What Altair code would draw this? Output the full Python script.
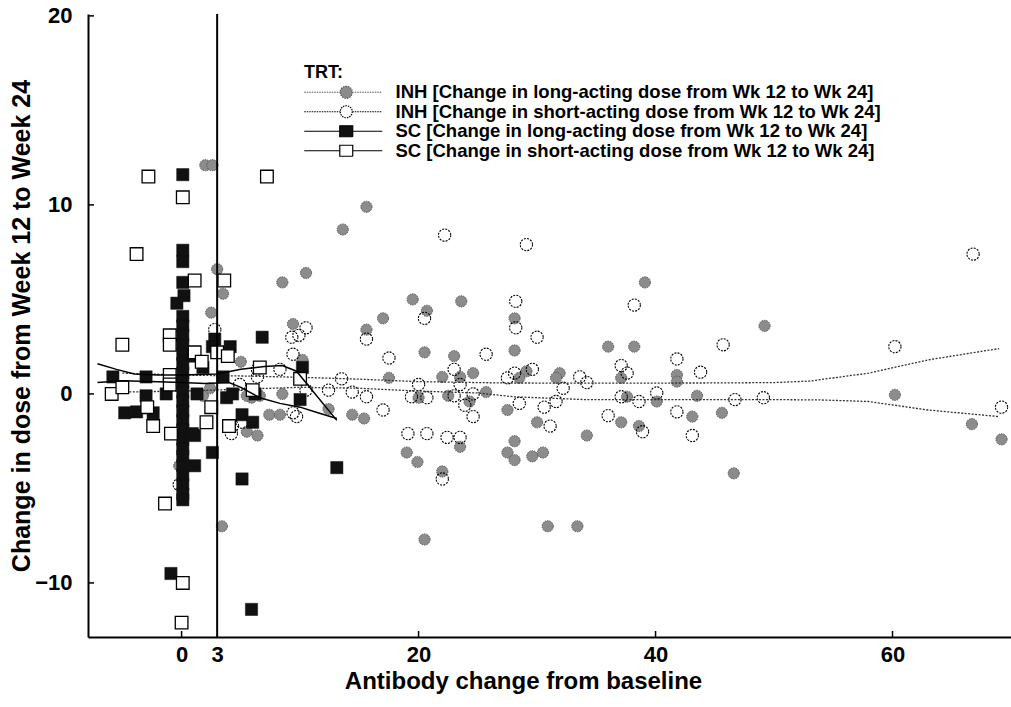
import altair as alt
import pandas as pd

# ---------------- data ----------------
# INH: change in long-acting dose (grey filled circles)
INH_LONG_X = [2.0, 2.6, 15.6, 13.6, 10.5, 8.5, 3.0, 3.5, 2.5, 19.5, 20.7, 23.6, 17.0, 15.6, 9.4,
              39.1, 28.1, 28.1, 36.0, 38.2, 49.2, 5.0, 10.2, 20.5, 23.0, 17.5, 22.0, 23.5, 24.6, 29.1,
              28.5, 31.9, 31.6, 37.1, 41.8, 41.8, 25.7, 8.5, 6.6, 5.9, 5.5, 1.8, 20.0, 22.5, 24.3,
              37.6, 40.1, 43.5, 60.2, 12.4, 14.4, 15.4, 7.4, 8.3, 27.5, 45.6, 43.1, 30.0, 37.1, 38.6,
              5.5, 6.4, 23.5, 28.1, 34.2, 27.5, 28.1, 29.6, 30.5, 19.0, 19.9, 22.0, 46.6, 20.5, 30.9,
              33.4, 3.4, -0.2, 66.7, 69.2, -5.0, -5.0, 2.4]
INH_LONG_Y = [12.1, 12.1, 9.9, 8.7, 6.4, 5.9, 6.6, 5.3, 4.3, 5.0, 4.4, 4.9, 4.0, 3.4, 3.7,
              5.9, 4.0, 2.3, 2.5, 2.5, 3.6, 1.7, 1.8, 2.2, 2.0, 0.85, 0.9, 0.9, 1.1, 1.2,
              0.85, 1.1, 0.85, 0.85, 1.0, 0.65, 0.1, 0.0, -0.1, -0.2, -0.1, -0.1, -0.2, -0.1, -0.4,
              -0.15, -0.4, -0.1, -0.05, -0.8, -1.1, -1.3, -1.1, -1.1, -0.85, -1.0, -1.2, -1.5, -1.5, -1.7,
              -2.0, -2.2, -2.8, -2.5, -2.2, -3.1, -3.5, -3.3, -3.1, -3.1, -3.6, -4.1, -4.2, -7.7, -7.0,
              -7.0, -7.0, -3.8, -1.6, -2.4, 2.6, 0.4, 0.3]

# INH: change in short-acting dose (open circles)
INH_SHORT_X = [22.2, 29.1, 66.8, 28.2, 38.2, 20.5, 10.5, 28.2, 2.8, 9.3, 9.9, 15.6, 30.0, 45.7, 60.2,
               9.4, 25.7, 17.5, 41.8, 37.1, 8.3, 6.4, 23.0, 29.6, 28.1, 37.6, 43.8, 27.5, 33.6, 34.2,
               13.5, 6.4, 4.9, 23.5, 20.0, 32.2, 12.4, 14.4, 10.5, 24.6, 40.1, 15.6, 19.4, 20.7, 23.0,
               37.1, 46.7, 49.1, 23.9, 28.5, 31.6, 30.6, 38.6, 69.2, 17.0, 9.4, 9.7, 24.6, 41.8, 36.0,
               31.1, 4.3, 5.1, 19.1, 20.7, 22.4, 23.5, 38.9, 43.1, 4.2, 22.0, -0.2]
INH_SHORT_Y = [8.4, 7.9, 7.4, 4.9, 4.7, 4.0, 3.5, 3.5, 3.4, 3.0, 3.1, 2.9, 3.0, 2.6, 2.5,
               2.1, 2.1, 1.9, 1.85, 1.5, 1.3, 1.3, 1.3, 1.3, 1.1, 1.1, 1.15, 0.85, 0.9, 0.6,
               0.8, 0.9, 0.5, 0.5, 0.5, 0.3, 0.2, 0.1, 0.2, 0.0, 0.05, -0.15, -0.15, -0.2, -0.1,
               -0.15, -0.3, -0.2, -0.6, -0.5, -0.4, -0.7, -0.4, -0.7, -0.85, -1.0, -1.2, -1.2, -0.95, -1.15,
               -1.7, -1.7, -1.5, -2.1, -2.1, -2.3, -2.3, -2.0, -2.2, -2.1, -4.5, -4.8]

# SC: change in long-acting dose (black squares)
SC_LONG_X = [0.1, 0.1, 0.1, 0.1, 0.2, -0.4, 0.1, 0.1, 0.1, 0.1, 0.1, 0.1, 0.1, 0.1, 0.1,
             0.1, 0.1, 0.1, 0.1, 0.1, 0.1, 0.1, 0.1, 0.1, 0.1, 0.1, 0.1, -0.9,
             0.9, 1.8, 1.3, -1.3, 0.9, 1.1, 1.1,
             2.8, 2.6, 4.1, 6.8, 10.2, 3.5, 3.8, 4.3, 6.2, 10.0, 5.1, 6.0, 2.6, 5.1, 5.9, 13.1,
             -5.8, -3.0, -3.0, -4.8, -3.8, -2.4]
SC_LONG_Y = [11.6, 7.6, 7.0, 5.9, 5.2, 4.8, 4.1, 3.6, 3.1, 2.6, 2.1, 1.6, 1.1, 0.6, 0.1,
             -0.4, -0.9, -1.4, -1.9, -2.4, -2.9, -3.3, -3.8, -4.3, -4.8, -5.3, -5.6, -9.5,
             2.0, 1.4, 0.0, 0.0, -2.1, -2.2, -3.8,
             2.9, 2.5, 2.5, 3.0, 1.4, 0.9, -0.2, 0.0, 0.0, -0.3, -1.1, -1.5, -3.1, -4.5, -11.4, -3.9,
             0.9, 0.9, -0.1, -1.0, -0.95, -1.0]

# SC: change in short-acting dose (open squares)
SC_SHORT_X = [-2.8, 0.1, 7.2, -3.8, 1.1, 3.6, -5.0, -1.0, -1.0, 1.1, 1.7, 3.0, 3.9, 6.6, 10.0,
              6.0, -1.0, -1.0, -5.9, -5.0, -2.9, -2.4, -0.9, 2.1, 2.5, 4.0, -1.4, 0.1, 0.0]
SC_SHORT_Y = [11.5, 10.4, 11.5, 7.4, 6.0, 6.0, 2.6, 3.1, 2.6, 2.2, 1.7, 2.2, 2.0, 1.4, 0.8,
              0.2, 1.0, 0.5, 0.0, 0.35, -0.7, -1.7, -2.1, -1.5, -0.7, -1.7, -5.8, -10.0, -12.1]

# smoothed trend curves
INH_SHORT_FIT_X = [-5, 0, 5, 10, 15, 20, 27, 35, 45, 50, 53, 58, 63, 69]
INH_SHORT_FIT_Y = [1.1, 1.0, 0.95, 0.88, 0.78, 0.65, 0.58, 0.57, 0.58, 0.6, 0.68, 1.1, 1.8, 2.4]
INH_LONG_FIT_X = [-5, 0, 5, 10, 15, 20, 25, 28, 34, 45, 50, 54, 58, 63, 69]
INH_LONG_FIT_Y = [0.1, 0.15, 0.25, 0.35, 0.3, 0.15, 0.05, -0.15, -0.3, -0.3, -0.3, -0.32, -0.4, -0.85, -1.2]
SC_A_FIT_X = [-7.1, -5.5, -4, -2, 0, 3, 5, 7, 8.5, 9.7, 13.1]
SC_A_FIT_Y = [1.6, 1.3, 1.05, 1.0, 1.0, 1.05, 1.3, 1.45, 1.5, 1.2, -1.4]
SC_B_FIT_X = [-7.1, -5, -2, 0, 2, 4, 5, 6.6, 8.3, 10, 11.5, 13.1]
SC_B_FIT_Y = [0.6, 0.7, 0.65, 0.6, 0.55, 0.6, 0.35, -0.2, -0.5, -0.7, -1.0, -1.3]

SERIES = [
    "INH [Change in long-acting dose from Wk 12 to Wk 24]",
    "INH [Change in short-acting dose from Wk 12 to Wk 24]",
    "SC [Change in long-acting dose from Wk 12 to Wk 24]",
    "SC [Change in short-acting dose from Wk 12 to Wk 24]",
]

X_DOMAIN = [-7.9, 70.0]
Y_DOMAIN = [-12.86, 20.1]
X_TICKS = [0, 3, 20, 40, 60]
X_TICK_MARKS = [0, 20, 40, 60]
Y_TICKS = [-10, 0, 10, 20]
CUTOFF = 3

# ---------------- styling ----------------
FONT = "Liberation Sans"
W, H = 923, 623

xs = alt.Scale(domain=X_DOMAIN, nice=False, zero=False)
ys = alt.Scale(domain=Y_DOMAIN, nice=False, zero=False)

x_axis = alt.Axis(values=X_TICKS, title="Antibody change from baseline", grid=False, ticks=False,
                  domainColor="black", domainWidth=2, labelFont=FONT, labelFontSize=22,
                  labelFontWeight="bold", labelColor="black", labelPadding=7, labelOverlap=False,
                  labelFlush=False, titleFont=FONT, titleFontSize=24, titleFontWeight="bold",
                  titleColor="black", titlePadding=4, titleX=435)
y_axis = alt.Axis(values=Y_TICKS, title="Change in dose from Week 12 to Week 24", grid=False,
                  ticks=False, domainColor="black", domainWidth=2, labelFont=FONT, labelFontSize=22,
                  labelFontWeight="bold", labelColor="black", labelPadding=16, labelOverlap=False,
                  labelFlush=False, titleFont=FONT, titleFontSize=25, titleFontWeight="bold",
                  titleColor="black", titlePadding=0)

X = alt.X("x:Q", scale=xs, axis=x_axis)
Y = alt.Y("y:Q", scale=ys, axis=y_axis)


def frame(xv, yv):
    return pd.DataFrame({"x": xv, "y": yv})


inh_long = alt.Chart(frame(INH_LONG_X, INH_LONG_Y)).mark_point(
    shape="circle", filled=True, fill="#8c8c8c", stroke="#555555", strokeWidth=1,
    strokeDash=[1.5, 1], size=125, opacity=1).encode(x=X, y=Y)

inh_short = alt.Chart(frame(INH_SHORT_X, INH_SHORT_Y)).mark_point(
    shape="circle", filled=False, stroke="black", strokeWidth=1.1, strokeDash=[2, 1.2],
    size=150, opacity=1).encode(x=X, y=Y)

inh_fit_short = alt.Chart(frame(INH_SHORT_FIT_X, INH_SHORT_FIT_Y)).mark_line(
    color="#333333", strokeWidth=1.3, strokeDash=[2, 1.5]).encode(x=X, y=Y)
inh_fit_long = alt.Chart(frame(INH_LONG_FIT_X, INH_LONG_FIT_Y)).mark_line(
    color="#333333", strokeWidth=1.3, strokeDash=[2, 1.5]).encode(x=X, y=Y)

sc_long = alt.Chart(frame(SC_LONG_X, SC_LONG_Y)).mark_point(
    shape="square", filled=True, fill="#111111", stroke="#111111", strokeWidth=0.5,
    size=150, opacity=1).encode(x=X, y=Y)

sc_short = alt.Chart(frame(SC_SHORT_X, SC_SHORT_Y)).mark_point(
    shape="square", filled=True, fill="white", stroke="black", strokeWidth=1.3,
    size=160, opacity=1).encode(x=X, y=Y)

sc_fit_a = alt.Chart(frame(SC_A_FIT_X, SC_A_FIT_Y)).mark_line(
    color="black", strokeWidth=1.5).encode(x=X, y=Y)
sc_fit_b = alt.Chart(frame(SC_B_FIT_X, SC_B_FIT_Y)).mark_line(
    color="black", strokeWidth=1.5).encode(x=X, y=Y)

cutoff = alt.Chart(pd.DataFrame({"x": [CUTOFF]})).mark_rule(
    color="black", strokeWidth=2).encode(x=X)

# inward tick marks
x_ticks = alt.Chart(pd.DataFrame({"x": X_TICK_MARKS})).mark_rule(
    color="black", strokeWidth=1.5).encode(x=X, y=alt.value(H), y2=alt.value(H - 6))
y_ticks = alt.Chart(pd.DataFrame({"y": Y_TICKS})).mark_rule(
    color="black", strokeWidth=1.5).encode(y=Y, x=alt.value(0), x2=alt.value(6))

# legend: line segment with marker for each series (symbol units: 8 px each)
CIRCLE = "M-0.75,0A0.75,0.75,0,1,0,0.75,0A0.75,0.75,0,1,0,-0.75,0Z"
SQUARE = "M-0.81,-0.69H0.81V0.69H-0.81Z"
LEAD_C = "M-5.25,0H-0.75M0.75,0H4.5"
LEAD_S = "M-5.25,0H-0.81M0.81,0H4.5"
LEG_SHAPES = [LEAD_C + CIRCLE, LEAD_C + CIRCLE, LEAD_S + SQUARE, LEAD_S + SQUARE]
LEG_FILL = ["#8c8c8c", "transparent", "#111111", "white"]
LEG_STROKE = ["#555555", "black", "black", "black"]
LEG_DASH = [[1.5, 1], [1.5, 1], [1, 0], [1, 0]]

leg = alt.Legend(title="TRT:", orient="none", legendX=216, legendY=50, symbolOffset=33,
                 labelOffset=40, symbolSize=256, symbolStrokeWidth=1.2, symbolOpacity=1,
                 labelFont=FONT, labelFontSize=18.5, labelFontWeight="bold", labelColor="black",
                 labelLimit=800, titleFont=FONT, titleFontSize=18, titleFontWeight="bold",
                 titleColor="black", titlePadding=1, rowPadding=0.5, padding=0)

legend_layer = alt.Chart(pd.DataFrame({"series": SERIES})).mark_point(
    filled=True, opacity=0, strokeWidth=1.2).encode(
    shape=alt.Shape("series:N", scale=alt.Scale(domain=SERIES, range=LEG_SHAPES), legend=leg),
    fill=alt.Fill("series:N", scale=alt.Scale(domain=SERIES, range=LEG_FILL), legend=leg),
    stroke=alt.Stroke("series:N", scale=alt.Scale(domain=SERIES, range=LEG_STROKE), legend=leg),
    strokeDash=alt.StrokeDash("series:N", scale=alt.Scale(domain=SERIES, range=LEG_DASH), legend=leg),
)

chart = alt.layer(
    inh_long, inh_short, inh_fit_short, inh_fit_long,
    sc_long, sc_short, sc_fit_a, sc_fit_b,
    cutoff, x_ticks, y_ticks, legend_layer,
).properties(
    width=W, height=H,
    autosize=alt.AutoSizeParams(type="none"),
    padding={"left": 88, "top": 14, "right": 0, "bottom": 70},
    background="white",
).configure_view(stroke=None)

chart.save("out.html", embed_options={"renderer": "svg", "actions": False})
